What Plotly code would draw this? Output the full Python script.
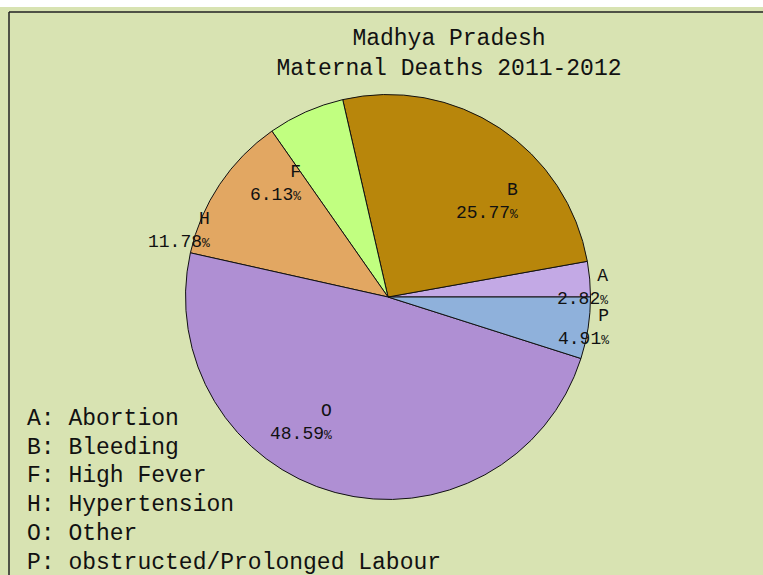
import math
import plotly.graph_objects as go

# Data
codes = ["A", "B", "F", "H", "O", "P"]
causes = ["Abortion", "Bleeding", "High Fever", "Hypertension", "Other",
          "obstructed/Prolonged Labour"]
shares = [2.82, 25.77, 6.13, 11.78, 48.59, 4.91]
colors = ["#C3A9E5", "#B8860B", "#C1FF80", "#E2A762", "#AF8FD3", "#8FB1DB"]

W, H = 763, 575
BG = "#D8E3B2"
FONT = "Liberation Mono"

# pie geometry (pixels)
cx, cy, R = 388, 297, 202.5

# small nudges (px) so the slice labels sit where the original put them
label_nudge = {"A": (43, -4), "B": (15, -31), "F": (-51, -25),
               "H": (-83, -18), "O": (-47, 21), "P": (45, -7)}

fig = go.Figure()

total = sum(shares)
fig.add_trace(go.Pie(
    labels=codes,
    values=shares,
    sort=False,
    direction="counterclockwise",
    rotation=90 - 360 * shares[0] / total,
    marker=dict(colors=colors, line=dict(color="#111111", width=1)),
    textinfo="none",
    hoverinfo="label+percent",
    showlegend=False,
    domain=dict(x=[(cx - R) / W, (cx + R) / W],
                y=[1 - (cy + R) / H, 1 - (cy - R) / H]),
))

# slice labels at the mid-angle of each slice
annotations = []
start = 0.0
for code, v in zip(codes, shares):
    ang = start + 180 * v / total
    start += 360 * v / total
    px = cx + 0.75 * R * math.cos(math.radians(ang))
    py = cy - 0.75 * R * math.sin(math.radians(ang))
    dx, dy = label_nudge[code]
    annotations.append(dict(
        x=px / W, y=1 - py / H, xref="paper", yref="paper",
        xshift=dx, yshift=dy,
        text=f"{code}<br>{v:.2f}<span style='font-size:13px'>%</span>",
        showarrow=False, align="right", xanchor="center", yanchor="middle",
        font=dict(family=FONT, size=18, color="#111111"),
    ))

# legend block at bottom left
for i, (code, name) in enumerate(zip(codes, causes)):
    annotations.append(dict(
        x=25 / W, y=1 - (419 + 28.7 * i) / H, xref="paper", yref="paper",
        text=f"{code}: {name}", showarrow=False,
        xanchor="left", yanchor="middle",
        font=dict(family=FONT, size=23, color="#111111"),
    ))

fig.update_layout(
    width=W, height=H,
    margin=dict(l=0, r=0, t=0, b=0),
    paper_bgcolor=BG,
    plot_bgcolor=BG,
    title=dict(
        text="Madhya Pradesh<br>Maternal Deaths 2011-2012",
        x=449 / W, xanchor="center",
        y=1 - 45 / H, yanchor="middle",
        font=dict(family=FONT, size=23, color="#111111"),
    ),
    annotations=annotations,
    shapes=[
        dict(type="rect", xref="paper", yref="paper",
             x0=-0.01, x1=1.01, y0=1 - 7 / H, y1=1.01,
             fillcolor="white", line=dict(width=0), layer="above"),
        dict(type="line", xref="paper", yref="paper",
             x0=9 / W, x1=1.01, y0=1 - 12 / H, y1=1 - 12 / H,
             line=dict(color="#222222", width=1.5)),
        dict(type="line", xref="paper", yref="paper",
             x0=9 / W, x1=9 / W, y0=-0.01, y1=1 - 12 / H,
             line=dict(color="#222222", width=1.5)),
    ],
)

# drop the page's default body margin so the figure fills the window
fig.write_html("out.html",
               config={"displayModeBar": False},
               post_script="document.body.style.margin = '0';")
